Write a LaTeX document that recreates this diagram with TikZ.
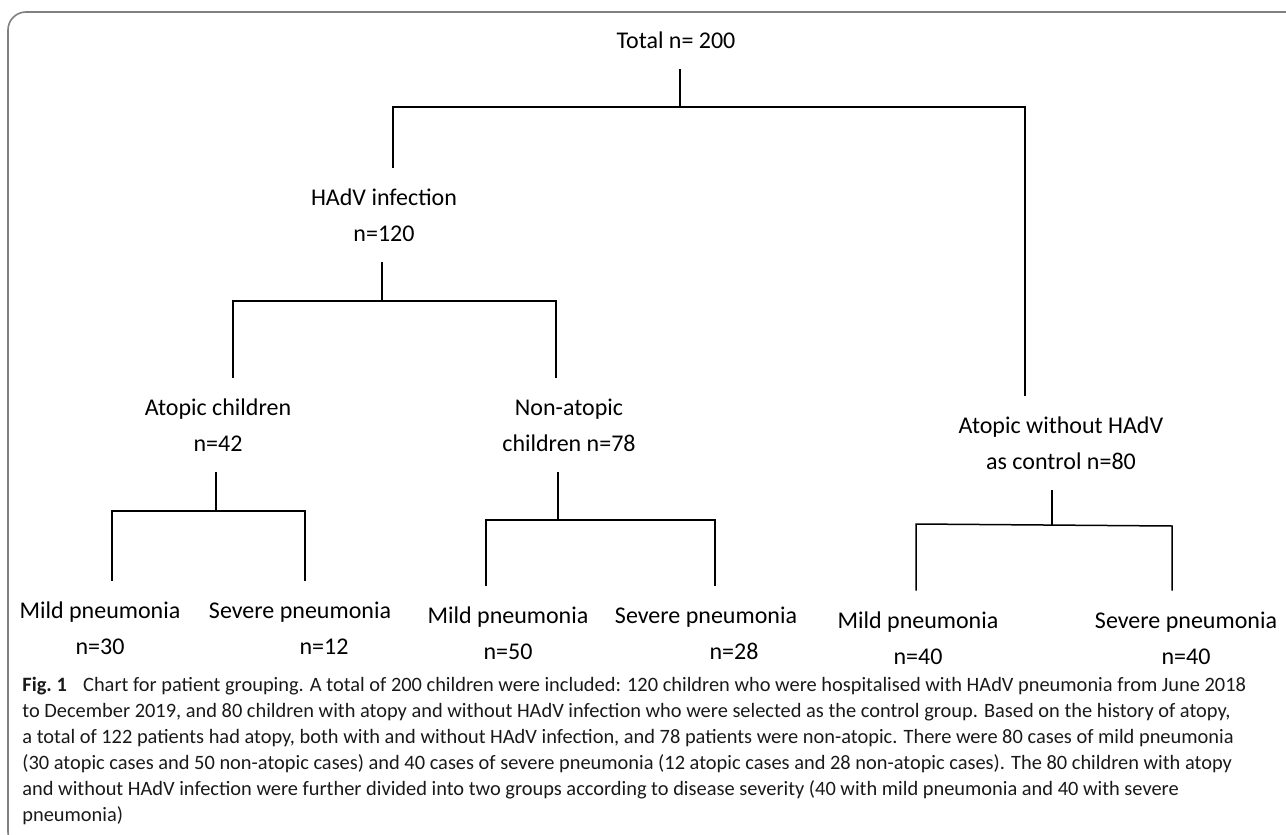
\documentclass[tikz,border=0pt]{standalone}
\usepackage{fontspec}
\setmainfont{Carlito}
\usetikzlibrary{calc}

\begin{document}
\begin{tikzpicture}[x=0.5pt,y=-0.5pt,
    grp/.style={font=\fontsize{12}{18}\selectfont, align=center, inner sep=0pt, outer ysep=10.5pt},
    branch/.style={black, line width=0.75pt}]
    \useasboundingbox (0,0) rectangle (1286,835);
    \clip (0,0) rectangle (1286,835);
    \draw [gray, line width=0.8pt, rounded corners=9pt] (8,12) rectangle (1310,850);% Draw frame

    % Group labels, top to bottom
    \node [grp] (total) at (676,40) {Total n= 200};
    \node [grp] (hadv) at (384,215) {HAdV infection\\n=120};
    \node [grp] (atop) at (218,425) {Atopic children\\n=42};
    \node [grp] (nonatop) at (569,425) {Non-atopic\\children n=78};
    \node [grp] (ctrl) at (1061,443) {Atopic without HAdV\\as control n=80};
    \node [grp] (mildA) at (100,628) {Mild pneumonia\\n=30};
    \node [grp] (sevA) at (300,628) {Severe pneumonia\\\hspace*{24pt}n=12};
    \node [grp] (mildN) at (508,633) {Mild pneumonia\\n=50};
    \node [grp] (sevN) at (706,633) {Severe pneumonia\\\hspace*{28pt}n=28};
    \node [grp] (mildC) at (918,638) {Mild pneumonia\\n=40};
    \node [grp] (sevC) at (1186,638) {Severe pneumonia\\n=40};

    % Junctions of the splits
    \coordinate (t0) at (680,107);
    \coordinate (tl) at (393,107);
    \coordinate (tr) at (1025,107);
    \coordinate (h0) at (382,301);
    \coordinate (hl) at (233,301);
    \coordinate (hr) at (556,301);
    \coordinate (a0) at (216,511);
    \coordinate (al) at (112,511);
    \coordinate (ar) at (305,511);
    \coordinate (n0) at (558,520);
    \coordinate (nl) at (486,520);
    \coordinate (nr) at (715,520);
    \coordinate (c0) at (1052,525);
    \coordinate (cl) at (916,524);
    \coordinate (cr) at (1172,526);

    \draw [branch] (total.south -| t0) -- (t0);% Total splits
    \draw [branch] (hadv.north -| tl) -- (tl) -- (tr) -- (ctrl.north -| tr);

    \draw [branch] (hadv.south -| h0) -- (h0);% HAdV splits
    \draw [branch] (atop.north -| hl) -- (hl) -- (hr) -- (nonatop.north -| hr);

    \draw [branch] (atop.south -| a0) -- (a0);% Atopic splits
    \draw [branch] (mildA.north -| al) -- (al) -- (ar) -- (sevA.north -| ar);

    \draw [branch] (nonatop.south -| n0) -- (n0);% Non-atopic splits
    \draw [branch] (mildN.north -| nl) -- (nl) -- (nr) -- (sevN.north -| nr);

    \draw [branch] (ctrl.south -| c0) -- (c0);% Control splits
    \draw [branch] (mildC.north -| cl) -- (cl) -- (cr) -- (sevC.north -| cr);

    % Caption
    \node [anchor=north west, align=left, inner sep=0pt,
      font=\fontsize{10.2}{13}\selectfont, text=black!90] (cap) at (22,677)
      {\textbf{Fig.~1}\hspace{0.8em}Chart for patient grouping. A total of 200 children were included: 120 children who were hospitalised with HAdV pneumonia from June 2018\\
       to December 2019, and 80 children with atopy and without HAdV infection who were selected as the control group. Based on the history of atopy,\\
       a total of 122 patients had atopy, both with and without HAdV infection, and 78 patients were non-atopic. There were 80 cases of mild pneumonia\\
       (30 atopic cases and 50 non-atopic cases) and 40 cases of severe pneumonia (12 atopic cases and 28 non-atopic cases). The 80 children with atopy\\
       and without HAdV infection were further divided into two groups according to disease severity (40 with mild pneumonia and 40 with severe\\
       pneumonia)};
\end{tikzpicture}
\end{document}
